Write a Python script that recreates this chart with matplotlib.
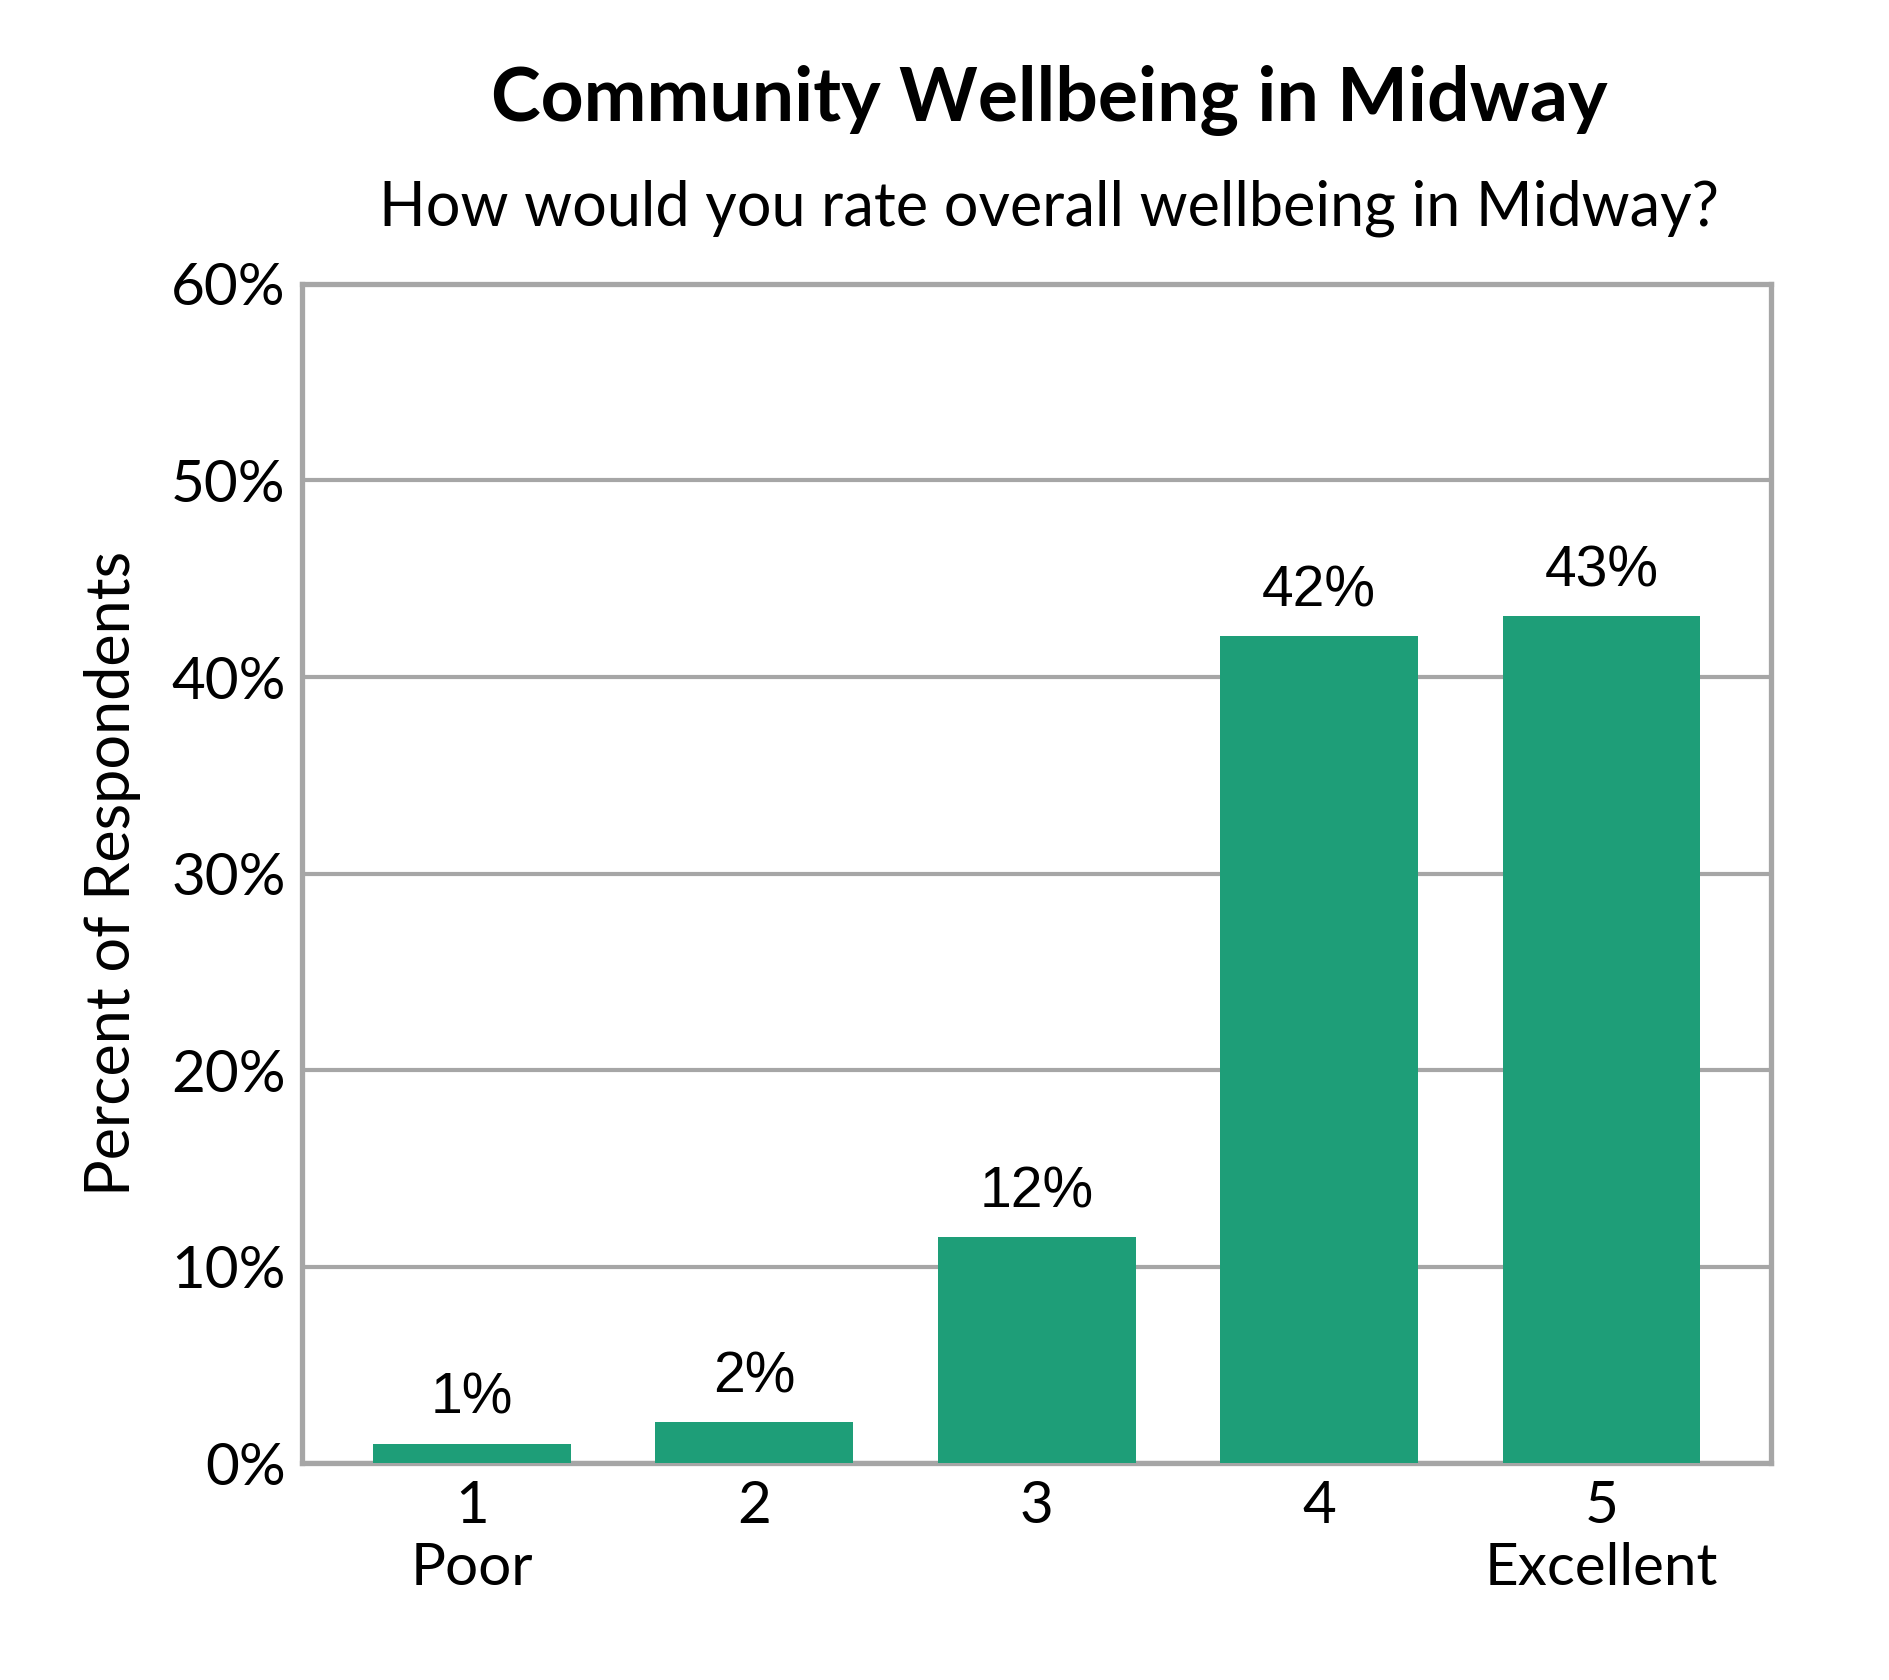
import matplotlib
matplotlib.use("Agg")
import matplotlib.pyplot as plt

categories = ["1\nPoor", "2", "3", "4", "5\nExcellent"]
values = [1.0, 2.1, 11.5, 42.1, 43.1]
labels = ["1%", "2%", "12%", "42%", "43%"]
yticks = [0, 10, 20, 30, 40, 50, 60]

plt.rcParams['font.family'] = ['Lato', 'DejaVu Sans']
fig = plt.figure(figsize=(18.9, 16.8), dpi=100)
ax = fig.add_axes([0.160, 0.129, 0.777, 0.702])
x = range(len(values))
bars = ax.bar(x, values, width=0.7, color="#1e9e78", zorder=3)
for xi, v, l in zip(x, values, labels):
    ax.text(xi, v + 0.9, l, ha="center", va="bottom", fontsize=41,
            family="Liberation Sans")
ax.set_xlim(-0.6, 4.6)
ax.set_ylim(0, 60)
ax.set_yticks(yticks)
ax.set_yticklabels([f"{t}%" for t in yticks], fontsize=42)
ax.set_xticks(list(x))
ax.set_xticklabels(categories, fontsize=42, linespacing=1.2)
ax.tick_params(length=0, pad=12)
ax.grid(axis="y", color="#a6a6a6", linewidth=3, zorder=0)
for s in ax.spines.values():
    s.set_color("#a6a6a6")
    s.set_linewidth(3.8)
ax.set_ylabel("Percent of Respondents", fontsize=44, labelpad=22)
fig.text(0.555, 0.94, "Community Wellbeing in Midway", ha="center", va="center",
         fontsize=54, fontweight="bold")
fig.text(0.555, 0.876, "How would you rate overall wellbeing in Midway?", ha="center",
         va="center", fontsize=44)
fig.savefig("out.png", dpi=100)
